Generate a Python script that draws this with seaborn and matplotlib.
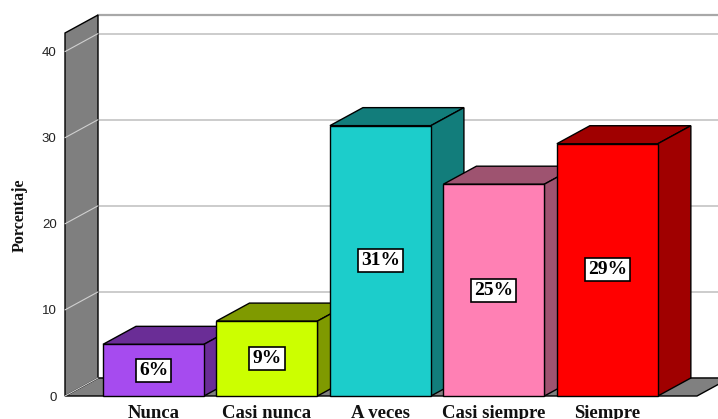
import matplotlib
matplotlib.use("Agg")
import matplotlib.pyplot as plt
import seaborn as sns
from matplotlib.patches import Polygon, Rectangle
from matplotlib.lines import Line2D
from matplotlib.transforms import IdentityTransform

# ---- data ----
categories = ["Nunca", "Casi nunca", "A veces", "Casi siempre", "Siempre"]
values = [6.0, 8.7, 31.4, 24.6, 29.3]
bar_labels = ["6%", "9%", "31%", "25%", "29%"]
y_ticks = [0, 10, 20, 30, 40]
y_tick_labels = ["0", "10", "20", "30", "40"]
front_colors = ["#a64bef", "#ccff00", "#1ccdcb", "#ff80b4", "#ff0000"]
dark_colors = ["#6a2d96", "#7f9a00", "#127d7b", "#9e5370", "#a00000"]

sns.set_style("white")
plt.rcParams["font.family"] = ["Liberation Sans", "DejaVu Sans"]

W, H = 718, 419
fig = plt.figure(figsize=(W / 100, H / 100), dpi=100)
fig.patch.set_facecolor("white")
ax = fig.add_axes([65 / W, (H - 396) / H, (697 - 65) / W, (396 - 33) / H])

sns.barplot(x=categories, y=values, hue=categories, palette=front_colors,
            legend=False, width=0.89, saturation=1, edgecolor="black",
            linewidth=1, ax=ax)
bars = sorted([p for p in ax.patches if isinstance(p, Rectangle)],
              key=lambda p: p.get_x())

ax.set_xlim(-0.78, 4.79)
ax.set_ylim(0, 42.16)
for s in ax.spines.values():
    s.set_visible(False)
ax.patch.set_visible(False)
ax.set_yticks(y_ticks)
ax.set_yticklabels(y_tick_labels, fontsize=9.5, color="#222222")
ax.tick_params(axis="y", length=0, pad=6)
ax.set_xticks(range(len(categories)))
ax.set_xticklabels(categories, fontfamily="Liberation Serif", fontweight="bold",
                   fontsize=13.5, color="#111111")
ax.tick_params(axis="x", length=0, pad=6.5)
ax.set_xlabel("")
ax.set_ylabel("")
ax.grid(False)

fig.text(19.5 / W, 1 - 215 / H, "Porcentaje", rotation=90, ha="center",
         va="center", fontfamily="Liberation Serif", fontweight="bold",
         fontsize=11.5, color="#111111")

DX, DY = 33, 18
ident = IdentityTransform()
x0d, y0d = ax.transAxes.transform((0, 0))
x1d, y1d = ax.transAxes.transform((1, 1))


def add_poly(pts, fc, ec="black", lw=1.0, z=1):
    p = Polygon(pts, closed=True, facecolor=fc, edgecolor=ec, linewidth=lw,
                transform=ident, zorder=z, clip_on=False)
    ax.add_artist(p)


def add_line(xs, ys, color, lw, z):
    ln = Line2D(xs, ys, color=color, linewidth=lw, transform=ident, zorder=z,
                clip_on=False)
    ax.add_artist(ln)


# back wall
add_poly([(x0d + DX, y0d + DY), (x1d + DX, y0d + DY), (x1d + DX, y1d + DY),
          (x0d + DX, y1d + DY)], fc="white", ec="none", z=0.5)
add_line([x0d + DX, x1d + DX], [y1d + DY, y1d + DY], "#a8a8a8", 1.6, 1)
for t in y_ticks:
    yd = ax.transData.transform((0, t))[1]
    add_line([x0d + DX, x1d + DX], [yd + DY, yd + DY], "#c8c8c8", 1.3, 1)

# floor
add_poly([(x0d, y0d), (x1d, y0d), (x1d + DX, y0d + DY), (x0d + DX, y0d + DY)],
         fc="#808080", ec="black", lw=1.0, z=2)
# left wall
add_poly([(x0d, y0d), (x0d, y1d), (x0d + DX, y1d + DY), (x0d + DX, y0d + DY)],
         fc="#7f7f7f", ec="black", lw=1.0, z=2.5)
for t in y_ticks:
    yd = ax.transData.transform((0, t))[1]
    add_line([x0d, x0d + DX], [yd, yd + DY], "#d0d0d0", 0.8, 3)

# 3D bars
for i, p in enumerate(bars):
    bx0, by0 = ax.transData.transform((p.get_x(), 0))
    bx1, by1 = ax.transData.transform((p.get_x() + p.get_width(), p.get_height()))
    add_poly([(bx0, by1), (bx1, by1), (bx1 + DX, by1 + DY), (bx0 + DX, by1 + DY)],
             fc=dark_colors[i], z=10 + 2 * i)
    add_poly([(bx1, by0), (bx1 + DX, by0 + DY), (bx1 + DX, by1 + DY), (bx1, by1)],
             fc=dark_colors[i], z=10 + 2 * i)
    p.set_zorder(11 + 2 * i)
    p.set_clip_on(False)
    ax.text(p.get_x() + p.get_width() / 2, p.get_height() / 2, bar_labels[i],
            ha="center", va="center", fontfamily="Liberation Serif",
            fontweight="bold", fontsize=14, color="black", zorder=40,
            bbox=dict(boxstyle="square,pad=0.15", fc="white", ec="black", lw=1.2))

fig.savefig("out.png", dpi=100)
